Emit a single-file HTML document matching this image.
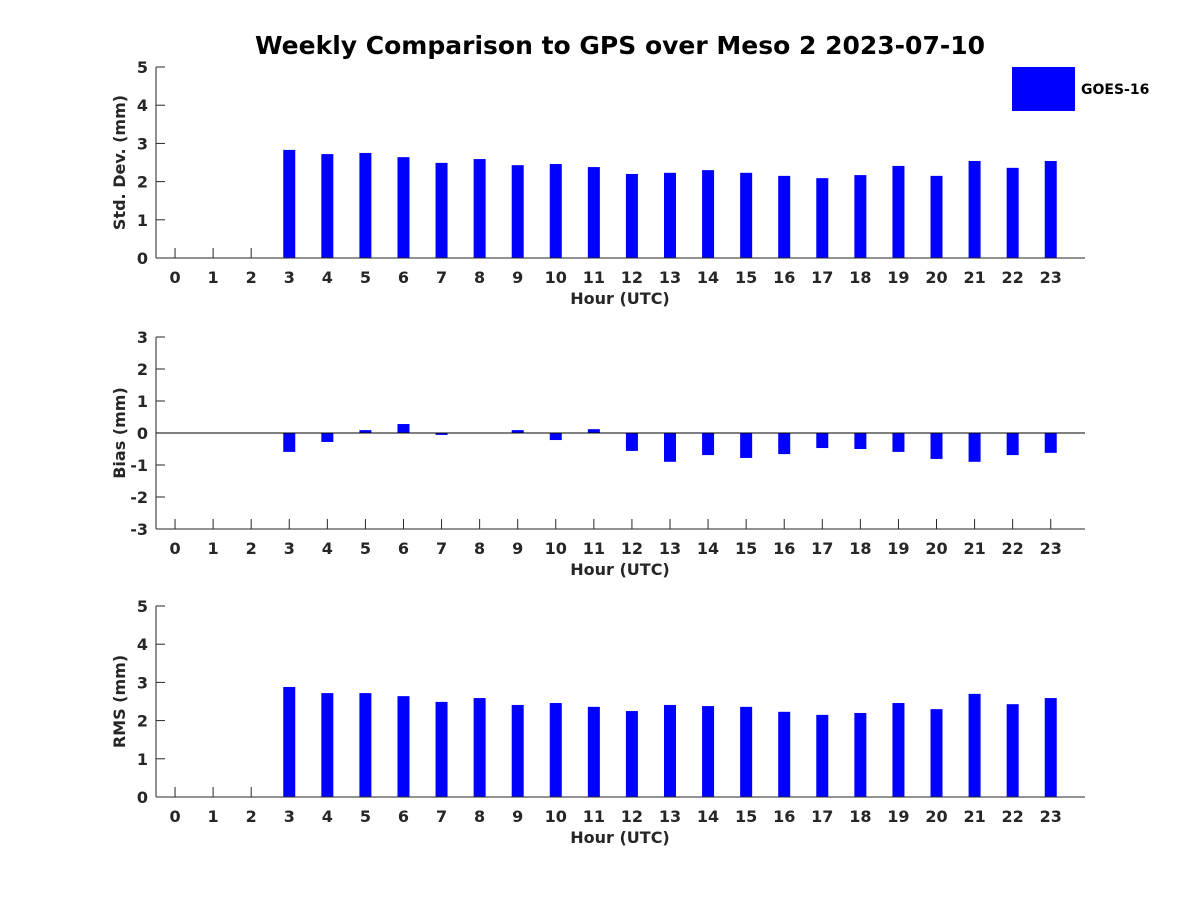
<!DOCTYPE html>
<html><head><meta charset="utf-8"><style>
html,body{margin:0;padding:0;background:#fff;}
svg{display:block;font-family:"DejaVu Sans","Liberation Sans",sans-serif;font-weight:bold;}
</style></head><body>
<svg id="chart" width="1200" height="900" xmlns="http://www.w3.org/2000/svg">
<text x="620" y="54" font-size="25" text-anchor="middle" fill="#000">Weekly Comparison to GPS over Meso 2 2023-07-10</text>
<rect x="1012" y="67" width="63" height="44" fill="#0000ff"/>
<text x="1081" y="94" font-size="14" fill="#000">GOES-16</text>
</svg>
<script>
const hours = [0,1,2,3,4,5,6,7,8,9,10,11,12,13,14,15,16,17,18,19,20,21,22,23];
const stdValues = [0,0,0,2.83,2.72,2.75,2.64,2.49,2.59,2.43,2.46,2.38,2.2,2.23,2.3,2.23,2.15,2.09,2.17,2.41,2.15,2.54,2.36,2.54];
const biasValues = [0,0,0,-0.59,-0.28,0.09,0.28,-0.06,0,0.09,-0.22,0.12,-0.56,-0.9,-0.69,-0.78,-0.66,-0.47,-0.5,-0.59,-0.81,-0.9,-0.69,-0.62];
const rmsValues = [0,0,0,2.88,2.72,2.72,2.64,2.49,2.59,2.41,2.46,2.36,2.25,2.41,2.38,2.36,2.23,2.15,2.2,2.46,2.3,2.7,2.43,2.59];
const stdTicks = [0,1,2,3,4,5];
const biasTicks = [-3,-2,-1,0,1,2,3];
const rmsTicks = [0,1,2,3,4,5];

const NS = "http://www.w3.org/2000/svg";
const svg = document.getElementById('chart');
function mk(tag, attrs, parent){
  const e = document.createElementNS(NS, tag);
  for (const k in attrs) e.setAttribute(k, attrs[k]);
  (parent||svg).appendChild(e);
  return e;
}
const X0 = 156, X1 = 1085, XMIN = -0.5, XMAX = 23.9;
function xScale(h){ return X0 + (h - XMIN) / (XMAX - XMIN) * (X1 - X0); }

function panel(name, top, bottom, ymin, ymax, ticks, values, ylabel){
  const g = mk('g', {});
  
  
  const y = v => bottom - (v - ymin) / (ymax - ymin) * (bottom - top);
  const bw = 12;
  hours.forEach(h => {
    mk('line', {x1: xScale(h), y1: bottom, x2: xScale(h), y2: bottom - 10, stroke: '#262626'}, g);
  });
  ticks.forEach(t => {
    mk('line', {x1: X0, y1: y(t), x2: X0 + 9, y2: y(t), stroke: '#262626'}, g);
  });
  values.forEach((v, i) => {
    if (v === 0) return;
    const cx = xScale(hours[i]);
    const r = mk('rect', {x: cx - bw/2, y: Math.min(y(v), y(0)), width: bw, height: Math.abs(y(v) - y(0)), fill: '#0000ff'}, g);
    
    
  });
  mk('line', {x1: X0, y1: top, x2: X0, y2: bottom, stroke: '#262626', 'stroke-width': 1}, g);
  mk('line', {x1: X0, y1: bottom, x2: X1, y2: bottom, stroke: '#262626', 'stroke-width': 1}, g);
  if (ymin < 0) mk('line', {x1: X0, y1: y(0), x2: X1, y2: y(0), stroke: '#000', 'stroke-width': 1}, g);
  ticks.forEach(t => {
    const tx = mk('text', {x: X0 - 8, y: y(t) + 6, 'font-size': 16, 'text-anchor': 'end', fill: '#262626'}, g);
    
    
    tx.textContent = t;
  });
  hours.forEach(h => {
    const tx = mk('text', {x: xScale(h), y: bottom + 25, 'font-size': 16, 'text-anchor': 'middle', fill: '#262626'}, g);
    
    
    tx.textContent = h;
  });
  const xl = mk('text', {x: 620, y: bottom + 46, 'font-size': 16, 'text-anchor': 'middle', fill: '#262626'}, g);
  
  
  xl.textContent = 'Hour (UTC)';
  const cy = (top + bottom) / 2;
  const yl = mk('text', {x: 125, y: cy, 'font-size': 16, 'text-anchor': 'middle', fill: '#262626', transform: 'rotate(-90 125 ' + cy + ')'}, g);
  
  
  yl.textContent = ylabel;
}
panel('std-dev', 67, 258, 0, 5, stdTicks, stdValues, 'Std. Dev. (mm)');
panel('bias', 337, 529, -3, 3, biasTicks, biasValues, 'Bias (mm)');
panel('rms', 606, 797, 0, 5, rmsTicks, rmsValues, 'RMS (mm)');
</script>
</body></html>
